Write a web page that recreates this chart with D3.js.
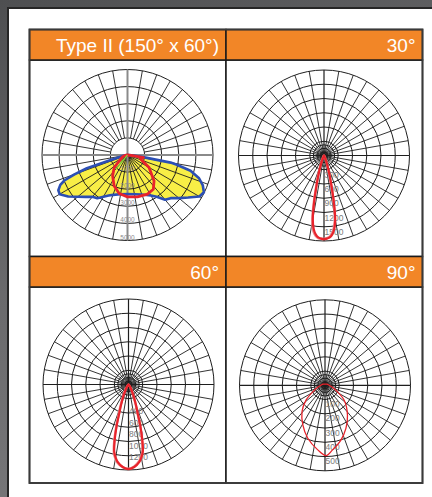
<!DOCTYPE html>
<html>
<head>
<meta charset="utf-8">
<script src="https://cdn.jsdelivr.net/npm/d3@7.9.0/dist/d3.min.js"></script>
<style>
  html, body { margin: 0; padding: 0; width: 432px; height: 497px; overflow: hidden; }
  body { background: linear-gradient(160deg, #4e4f51 0%, #6a6a6c 45%, #7e7e80 100%); }
  svg { display: block; }
</style>
</head>
<body>
<svg id="chart" width="432" height="497"></svg>
<script>
const headers = ['Type II (150° x 60°)', '30°', '60°', '90°'];

// angles in degrees from nadir (0 = straight down, + = right), values in cd
const typeIIBlueAngles = [-90, -80, -75, -73, -72, -70, -68, -66, -63, -60, -55, -50, -45, -40, -35, -30, -25, -20, -10, 0,
  10, 20, 30, 35, 40, 45, 50, 55, 60, 64, 68, 72, 76, 79, 80, 82, 85, 90];
const typeIIBlueValues = [0, 200, 600, 1200, 2500, 3300, 3980, 4300, 4540, 4580, 4230, 3800, 3460, 3190, 3080, 2820, 2610, 2480, 2330, 2290,
  2330, 2460, 2730, 2980, 3420, 3570, 3920, 4330, 4850, 4970, 4750, 4400, 3800, 2900, 2560, 1000, 250, 0];

const typeIIRedAngles = [-90, -80, -70, -60, -54, -46.5, -35.5, -23.3, -12.2, 0, 13.4, 27, 37, 45.7, 59.7, 72, 78, 81, 84, 90];
const typeIIRedValues = [0, 150, 300, 450, 600, 1070, 1500, 1970, 2300, 2450, 2520, 2570, 2510, 2170, 1460, 815, 750, 950, 300, 0];

const typeIIGreenAngles = [-39];
const typeIIGreenValues = [1070];

const tilt30Angles = [-90, -40, -30, -25, -20, -18, -16, -14, -12, -10, -8, -6, -4, -2, 0,
  2, 4, 6, 8, 10, 12, 14, 16, 18, 20, 25, 30, 40, 90];
const tilt30Values = [0, 20, 20, 60, 160, 260, 420, 640, 990, 1360, 1560, 1670, 1730, 1750, 1760,
  1750, 1730, 1670, 1560, 1360, 990, 640, 420, 260, 160, 60, 20, 20, 0];
const tilt30AltValues = [0, 25, 30, 80, 200, 310, 480, 700, 1060, 1420, 1610, 1700, 1745, 1755, 1755,
  1740, 1715, 1640, 1520, 1310, 940, 600, 390, 240, 150, 55, 20, 20, 0];

const tilt60Angles = [-90, -40, -30, -24, -20, -18, -16, -14, -12, -10, -8, -4, 0,
  4, 8, 10, 12, 14, 16, 18, 20, 24, 30, 40, 90];
const tilt60Values = [0, 20, 90, 210, 380, 508, 750, 1000, 1205, 1300, 1370, 1450, 1483,
  1450, 1370, 1300, 1209, 1000, 750, 500, 380, 210, 90, 20, 0];
const tilt60AltValues = [0, 25, 110, 250, 430, 560, 800, 1040, 1230, 1320, 1385, 1455, 1478,
  1440, 1355, 1280, 1180, 970, 720, 480, 360, 200, 85, 20, 0];

const tilt90Angles = [-180, -120, -90, -80, -65, -52, -41, -29, -18, -6.4, 0.8, 6.7, 16.2, 25.9, 37, 52, 65.6, 80, 90, 120];
const tilt90Values = [8, 15, 30, 45, 82, 169, 246, 320, 391, 456, 493, 456, 400, 336, 262, 171, 84, 45, 30, 15];

const typeIILabels = [1000, 2000, 3000, 4000, 5000];
const tilt30Labels = [300, 600, 900, 1200, 1500];
const tilt60Labels = [400, 600, 800, 1000, 1200];
const tilt90Labels = [100, 200, 300, 400, 500];

const zip = (a, v) => a.map((d, i) => [d, v[i]]);

const R = 85.5;
const panels = [
  { cx: 127.5, cy: 155, max: 5000, rings: 5, hole: true, labels: typeIILabels, labelSize: 6.5, labelDy: -1, anchor: 'middle',
    fill: zip(typeIIBlueAngles, typeIIBlueValues),
    series: [
      { pts: zip(typeIIBlueAngles, typeIIBlueValues), color: '#2c4fb4', width: 2.6 },
      { pts: zip(typeIIRedAngles, typeIIRedValues), color: '#e8232b', width: 2.8 }
    ],
    rays: zip(typeIIGreenAngles, typeIIGreenValues) },
  { cx: 324, cy: 155.5, max: 1800, rings: 6, labels: tilt30Labels, labelSize: 8.5, labelDy: 8, anchor: 'start',
    series: [
      { pts: zip(tilt30Angles, tilt30AltValues), color: '#ec8a8c', width: 2.4 },
      { pts: zip(tilt30Angles, tilt30Values), color: '#e8232b', width: 2.2 }
    ] },
  { cx: 128.5, cy: 384.5, max: 1500, rings: 6, labels: tilt60Labels, labelSize: 8.5, labelDy: 7, anchor: 'start',
    series: [
      { pts: zip(tilt60Angles, tilt60AltValues), color: '#ec8a8c', width: 2.4 },
      { pts: zip(tilt60Angles, tilt60Values), color: '#e8232b', width: 2.2 }
    ] },
  { cx: 325, cy: 385.3, max: 600, rings: 6, labels: tilt90Labels, labelSize: 8.5, labelDy: 7.5, anchor: 'start',
    series: [
      { pts: zip(tilt90Angles, tilt90Values), color: '#e8232b', width: 1.3 }
    ] }
];

const svg = d3.select('#chart');

// paper sheet
svg.append('rect')
  .attr('x', 8).attr('y', 8).attr('width', 440).attr('height', 500)
  .attr('fill', '#fff').attr('stroke', '#262626').attr('stroke-width', 2);

// table layout
const xs = [29.5, 226, 422.5];
const headerRows = [[29.5, 60], [256.5, 287]];
const bodyRows = [[60, 256.5], [287, 483]];

bodyRows.forEach(([y0, y1]) => {
  [0, 1].forEach(c => {
    svg.append('rect')
      .attr('x', xs[c]).attr('y', y0).attr('width', xs[c + 1] - xs[c]).attr('height', y1 - y0)
      .attr('fill', '#fff').attr('stroke', '#1a1a1a').attr('stroke-width', 1.5);
  });
});

headerRows.forEach(([y0, y1], row) => {
  [0, 1].forEach(c => {
    svg.append('rect')
      .attr('x', xs[c]).attr('y', y0).attr('width', xs[c + 1] - xs[c]).attr('height', y1 - y0)
      .attr('fill', '#f28627').attr('stroke', '#1a1a1a').attr('stroke-width', 1.5);
    svg.append('text')
      .attr('x', xs[c + 1] - 7).attr('y', y1 - 8.5)
      .attr('text-anchor', 'end')
      .attr('fill', '#fff')
      .style('font-family', '"Liberation Sans", Arial, sans-serif')
      .style('font-size', '19px')
      .text(headers[row * 2 + c]);
  });
});

svg.append('rect')
  .attr('x', xs[0]).attr('y', 29.5).attr('width', xs[2] - xs[0]).attr('height', 483 - 29.5)
  .attr('fill', 'none').attr('stroke', '#3a3a3a').attr('stroke-width', 1.8);

const toRad = d => Math.PI - d * Math.PI / 180;

panels.forEach(p => {
  const r = d3.scaleLinear().domain([0, p.max]).range([0, R]);
  const g = svg.append('g').attr('transform', `translate(${p.cx},${p.cy})`);
  const step = p.max / p.rings;
  const ringVals = d3.range(1, p.rings + 1).map(i => i * step);

  if (p.fill) {
    g.append('path')
      .attr('d', d3.lineRadial().angle(d => toRad(d[0])).radius(d => r(d[1]))
        .curve(d3.curveLinearClosed)(p.fill))
      .attr('fill', '#f8ee46');
  }

  // rings
  g.selectAll('circle.ring')
    .data(ringVals)
    .join('circle')
    .attr('class', 'ring')
    .attr('r', d => r(d))
    .attr('fill', 'none')
    .attr('stroke', '#1e1e1e')
    .attr('stroke-width', 1);

  // tight rings round the centre of the tilt diagrams
  if (!p.hole) {
    g.selectAll('circle.inner')
      .data([0.25, 0.5, 0.75])
      .join('circle')
      .attr('class', 'inner')
      .attr('r', f => r(step * f))
      .attr('fill', 'none').attr('stroke', '#1e1e1e').attr('stroke-width', 1);
  }

  // spokes every 10 degrees
  const spokes = d3.range(0, 360, 10).filter(a => a % 90 !== 0);
  const innerR = a => (p.hole && a > 90 && a < 270 ? r(ringVals[0]) : 0);
  g.selectAll('line.spoke')
    .data(spokes)
    .join('line')
    .attr('class', 'spoke')
    .attr('x1', a => innerR(a) * Math.sin(a * Math.PI / 180))
    .attr('y1', a => innerR(a) * Math.cos(a * Math.PI / 180))
    .attr('x2', a => R * Math.sin(a * Math.PI / 180))
    .attr('y2', a => R * Math.cos(a * Math.PI / 180))
    .attr('stroke', '#1e1e1e')
    .attr('stroke-width', 0.9);

  // main axes
  const axisColor = p.hole ? '#8a8a8a' : '#1e1e1e';
  const axisWidth = p.hole ? 2 : 1.2;
  g.append('line').attr('x1', -R).attr('x2', R).attr('y1', 0).attr('y2', 0)
    .attr('stroke', axisColor).attr('stroke-width', axisWidth);
  g.append('line').attr('x1', 0).attr('x2', 0).attr('y1', -R).attr('y2', R)
    .attr('stroke', axisColor).attr('stroke-width', axisWidth);

  // value labels
  g.selectAll('text.lab')
    .data(p.labels)
    .join('text')
    .attr('class', 'lab')
    .attr('x', p.anchor === 'middle' ? 0 : 0.5)
    .attr('y', d => r(d) + p.labelDy)
    .attr('text-anchor', p.anchor)
    .attr('fill', p.hole ? '#8c8c8c' : '#7a7a7a')
    .style('font-family', '"Liberation Sans", Arial, sans-serif')
    .style('font-size', p.labelSize + 'px')
    .text(d => d);

  // curves
  const line = d3.lineRadial()
    .angle(d => toRad(d[0]))
    .radius(d => r(d[1]))
    .curve(p.hole ? d3.curveLinearClosed : d3.curveCatmullRomClosed.alpha(0.5));

  p.series.forEach(s => {
    g.append('path')
      .attr('d', line(s.pts))
      .attr('fill', 'none')
      .attr('stroke', s.color)
      .attr('stroke-width', s.width)
      .attr('stroke-linejoin', 'round');
  });

  if (p.rays) {
    g.selectAll('line.ray')
      .data(p.rays)
      .join('line')
      .attr('class', 'ray')
      .attr('x1', 0).attr('y1', 0)
      .attr('x2', d => r(d[1]) * Math.sin(d[0] * Math.PI / 180))
      .attr('y2', d => r(d[1]) * Math.cos(d[0] * Math.PI / 180))
      .attr('stroke', '#7fd43a')
      .attr('stroke-width', 1.2);
  }
});
</script>
</body>
</html>
